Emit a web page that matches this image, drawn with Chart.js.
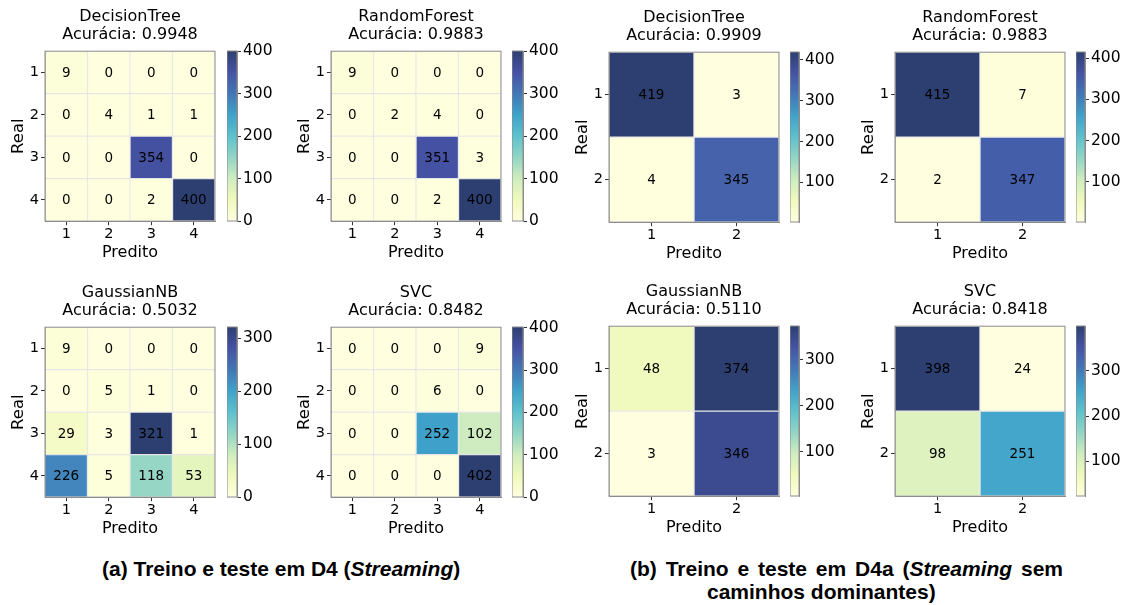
<!DOCTYPE html>
<html>
<head>
<meta charset="utf-8">
<script src="https://cdn.jsdelivr.net/npm/chart.js@4.4.0/dist/chart.umd.min.js"></script>
<style>
  body { margin: 0; background: #fff; width: 1126px; height: 605px; position: relative; overflow: hidden; }
  .box { position: absolute; }
  .cap { position: absolute; font-family: 'Liberation Sans', Arial, sans-serif; font-weight: bold;
         font-size: 21px; line-height: 23px; color: #000; white-space: nowrap; }
</style>
</head>
<body>
<div class="cap" style="left:102px;top:557px">(a) Treino e teste em D4 (<i>Streaming</i>)</div>
<div class="cap" style="left:630px;top:557px;width:433px;text-align:justify;text-align-last:justify">(b) Treino e teste em D4a (<i>Streaming</i> sem</div>
<div class="cap" style="left:707px;top:580px">caminhos dominantes)</div>

<script>
// ---------- data ----------
const classesA = ['1', '2', '3', '4'];
const classesB = ['1', '2'];

const modelNames = ['DecisionTree', 'RandomForest', 'GaussianNB', 'SVC'];
const accuracyA = ['0.9948', '0.9883', '0.5032', '0.8482'];
const accuracyB = ['0.9909', '0.9883', '0.5110', '0.8418'];

// rows = Real, columns = Predito
const cmDecisionTreeA = [[9, 0, 0, 0], [0, 4, 1, 1], [0, 0, 354, 0], [0, 0, 2, 400]];
const cmRandomForestA = [[9, 0, 0, 0], [0, 2, 4, 0], [0, 0, 351, 3], [0, 0, 2, 400]];
const cmGaussianNBA   = [[9, 0, 0, 0], [0, 5, 1, 0], [29, 3, 321, 1], [226, 5, 118, 53]];
const cmSVCA          = [[0, 0, 0, 9], [0, 0, 6, 0], [0, 0, 252, 102], [0, 0, 0, 402]];

const cmDecisionTreeB = [[419, 3], [4, 345]];
const cmRandomForestB = [[415, 7], [2, 347]];
const cmGaussianNBB   = [[48, 374], [3, 346]];
const cmSVCB          = [[398, 24], [98, 251]];

// colorbar tick labels
const cbTicks0to400   = [0, 100, 200, 300, 400];
const cbTicks0to300   = [0, 100, 200, 300];
const cbTicks100to400 = [100, 200, 300, 400];
const cbTicks100to300 = [100, 200, 300];

// ---------- layout (heatmap left/top, colorbar left/width) ----------
const panels = [
  { name: modelNames[0], acc: accuracyA[0], cm: cmDecisionTreeA, labels: classesA, ticks: cbTicks0to400,   hm: [45, 51],   cb: [227, 10] },
  { name: modelNames[1], acc: accuracyA[1], cm: cmRandomForestA, labels: classesA, ticks: cbTicks0to400,   hm: [331, 51],  cb: [512, 11] },
  { name: modelNames[2], acc: accuracyA[2], cm: cmGaussianNBA,   labels: classesA, ticks: cbTicks0to300,   hm: [45, 327],  cb: [227, 10] },
  { name: modelNames[3], acc: accuracyA[3], cm: cmSVCA,          labels: classesA, ticks: cbTicks0to400,   hm: [331, 327], cb: [512, 11] },
  { name: modelNames[0], acc: accuracyB[0], cm: cmDecisionTreeB, labels: classesB, ticks: cbTicks100to400, hm: [609, 52],  cb: [790, 9] },
  { name: modelNames[1], acc: accuracyB[1], cm: cmRandomForestB, labels: classesB, ticks: cbTicks100to400, hm: [895, 52],  cb: [1076, 9] },
  { name: modelNames[2], acc: accuracyB[2], cm: cmGaussianNBB,   labels: classesB, ticks: cbTicks100to300, hm: [609, 326], cb: [790, 9] },
  { name: modelNames[3], acc: accuracyB[3], cm: cmSVCB,          labels: classesB, ticks: cbTicks100to300, hm: [895, 326], cb: [1076, 9] },
];

const SIZE = 170;      // heatmap square side
const TITLE_H = 51.2;  // 2 lines * 17.6 + 16 padding
const YAXIS_W = 45;
const XAXIS_H = 41;
const FRAME = '#8c8c8c';

Chart.defaults.font.family = "'DejaVu Sans', sans-serif";
Chart.defaults.color = '#000';

// ---------- YlGnBu colormap (alpha .85 on white) ----------
const YLGNBU = [[255,255,217],[237,248,177],[199,233,180],[127,205,187],[65,182,196],
                [29,145,192],[34,94,168],[37,52,148],[8,29,88]];
const ALPHA = 0.85;
function cmap(t) {
  t = Math.min(1, Math.max(0, t));
  const p = t * (YLGNBU.length - 1);
  const i = Math.min(Math.floor(p), YLGNBU.length - 2);
  const f = p - i;
  const c = YLGNBU[i].map((v, k) => v + (YLGNBU[i + 1][k] - v) * f);
  const b = c.map(v => Math.round(v * ALPHA + 255 * (1 - ALPHA)));
  return `rgb(${b[0]},${b[1]},${b[2]})`;
}

// ---------- plugins ----------
const framePlugin = {
  id: 'frame',
  afterDatasetsDraw(chart) {
    const { ctx, chartArea: a } = chart;
    ctx.save();
    ctx.strokeStyle = FRAME;
    ctx.lineWidth = 1;
    ctx.strokeRect(a.left, a.top, a.right - a.left, a.bottom - a.top);
    ctx.restore();
  }
};

const cellTextPlugin = {
  id: 'cellText',
  afterDatasetsDraw(chart) {
    const ctx = chart.ctx;
    ctx.save();
    ctx.font = "13.5px 'DejaVu Sans'";
    ctx.fillStyle = '#000';
    ctx.textAlign = 'center';
    ctx.textBaseline = 'middle';
    chart.data.datasets.forEach((ds, di) => {
      chart.getDatasetMeta(di).data.forEach((bar, ci) => {
        const { x, y, base } = bar.getProps(['x', 'y', 'base'], true);
        ctx.fillText(String(ds.counts[ci]), x, (y + base) / 2 + 1);
      });
    });
    ctx.restore();
  }
};

function makeBox(left, top, w, h) {
  const div = document.createElement('div');
  div.className = 'box';
  div.style.left = left + 'px';
  div.style.top = top + 'px';
  div.style.width = w + 'px';
  div.style.height = h + 'px';
  const cv = document.createElement('canvas');
  div.appendChild(cv);
  document.body.appendChild(div);
  return cv;
}

function drawHeatmap(p) {
  const n = p.labels.length;
  const vals = p.cm.flat();
  const vmin = Math.min(...vals), vmax = Math.max(...vals);
  const W = YAXIS_W + SIZE + 8;
  const H = Math.ceil(TITLE_H + SIZE + XAXIS_H);
  const cv = makeBox(p.hm[0] - YAXIS_W, p.hm[1] - TITLE_H, W, H);

  const datasets = p.cm.map((row, r) => ({
    data: row.map(() => [r + 0.5, r + 1.5]),
    counts: row,
    backgroundColor: row.map(v => cmap((v - vmin) / (vmax - vmin))),
    borderColor: 'rgba(200,200,200,0.35)',
    borderWidth: 1,
    borderSkipped: false,
    grouped: false,
    barPercentage: 1,
    categoryPercentage: 1
  }));

  new Chart(cv, {
    type: 'bar',
    data: { labels: p.labels, datasets },
    options: {
      responsive: true,
      maintainAspectRatio: false,
      animation: false,
      layout: { padding: { left: 0, right: 8, top: 0, bottom: H - TITLE_H - SIZE - XAXIS_H } },
      plugins: {
        legend: { display: false },
        tooltip: { enabled: false },
        title: {
          display: true,
          fullSize: false,
          text: [p.name, 'Acurácia: ' + p.acc],
          font: { size: 16, weight: 'normal', lineHeight: 1.1 },
          color: '#000',
          padding: { top: 8, bottom: 8 }
        }
      },
      scales: {
        x: {
          type: 'category',
          offset: true,
          grid: { display: true, drawOnChartArea: false, drawTicks: true, tickLength: 4, color: '#333', offset: false },
          border: { display: true, color: FRAME },
          ticks: { font: { size: 14.5 }, padding: 0, color: '#000', maxRotation: 0, autoSkip: false },
          title: { display: true, text: 'Predito', font: { size: 16 }, color: '#000', padding: { top: 0, bottom: 0 } },
          afterFit: (s) => { s.height = XAXIS_H; }
        },
        y: {
          type: 'linear',
          reverse: true,
          min: 0.5,
          max: n + 0.5,
          afterBuildTicks: (s) => { s.ticks = p.labels.map((_, i) => ({ value: i + 1 })); },
          grid: { display: true, drawOnChartArea: false, drawTicks: true, tickLength: 4, color: '#333' },
          border: { display: true, color: FRAME },
          ticks: { font: { size: 14.5 }, padding: 2, color: '#000', callback: (v) => p.labels[v - 1] },
          title: { display: true, text: 'Real', font: { size: 16.5 }, color: '#000', padding: { top: 9, bottom: 0 } },
          afterFit: (s) => { s.width = YAXIS_W; }
        }
      }
    },
    plugins: [cellTextPlugin, framePlugin]
  });

  drawColorbar(p, vmin, vmax);
}

function drawColorbar(p, vmin, vmax) {
  const PAD = 15, AX = 45;
  const cv = makeBox(p.cb[0], p.hm[1] - PAD, p.cb[1] + AX, SIZE + 2 * PAD);
  new Chart(cv, {
    type: 'bar',
    data: {
      labels: [''],
      datasets: [{
        data: [[vmin, vmax]],
        backgroundColor: (ctx) => {
          const a = ctx.chart.chartArea;
          if (!a) return 'rgba(0,0,0,0)';
          const g = ctx.chart.ctx.createLinearGradient(0, a.bottom, 0, a.top);
          for (let i = 0; i <= 40; i++) g.addColorStop(i / 40, cmap(i / 40));
          return g;
        },
        borderWidth: 0,
        barPercentage: 1,
        categoryPercentage: 1
      }]
    },
    options: {
      responsive: true,
      maintainAspectRatio: false,
      animation: false,
      layout: { padding: { left: 0, right: 0, top: PAD, bottom: PAD } },
      plugins: { legend: { display: false }, tooltip: { enabled: false } },
      scales: {
        x: { display: false, offset: true },
        y: {
          type: 'linear',
          position: 'right',
          min: vmin,
          max: vmax,
          afterBuildTicks: (s) => { s.ticks = p.ticks.map(v => ({ value: v })); },
          grid: { display: true, drawOnChartArea: false, drawTicks: true, tickLength: 4, color: '#333' },
          border: { display: true, color: FRAME },
          ticks: { font: { size: 15.5 }, padding: 2, color: '#000' },
          afterFit: (s) => { s.width = AX; }
        }
      }
    },
    plugins: [framePlugin]
  });
}

panels.forEach(drawHeatmap);
</script>
</body>
</html>
